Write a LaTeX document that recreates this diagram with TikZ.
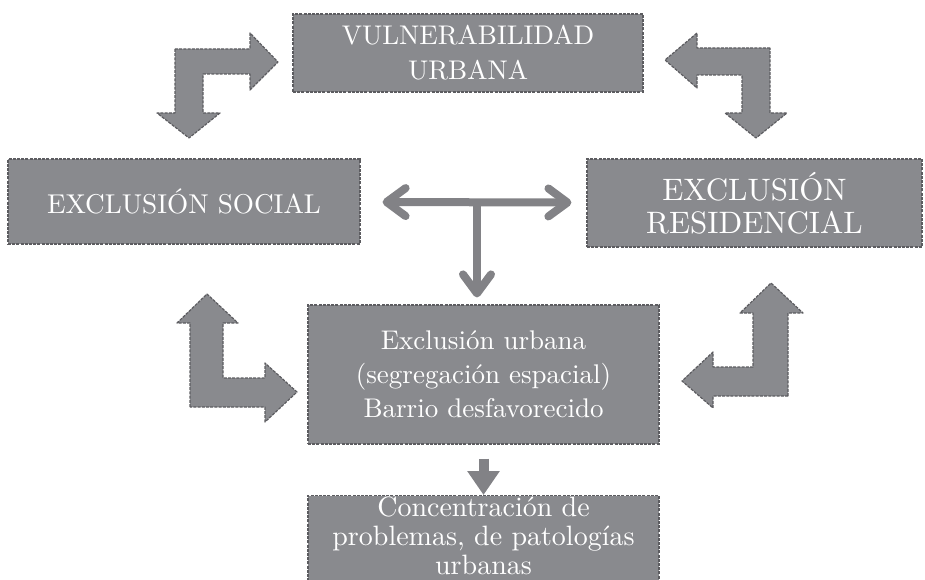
\documentclass[tikz,border=0pt]{standalone}
\usepackage{fontspec}
\setmainfont{lmroman10-regular.otf}
\usepackage{tikz}
\usetikzlibrary{arrows.meta}
\definecolor{boxgray}{RGB}{137,138,142}
\definecolor{edgegray}{RGB}{92,92,96}
\definecolor{linegray}{RGB}{130,130,134}

\begin{document}
\begin{tikzpicture}[x=1pt,y=-1pt,
    box/.style={rectangle,draw=edgegray,fill=boxgray,line width=1.2pt,
      dash pattern=on 3pt off 1.2pt,text=white,align=center,inner sep=0pt},
    lblock/.style={draw=edgegray,fill=boxgray,line width=1.2pt,
      dash pattern=on 3pt off 1.2pt,line join=round},
    tarrow/.style={draw=linegray,line width=8pt,
      {Straight Barb[length=19pt,width=28pt,round]}-{Straight Barb[length=19pt,width=28pt,round]}},
    downarrow/.style={draw=linegray,line width=10pt,
      -{Triangle[length=24pt,width=31pt]}}]
  \useasboundingbox (0,0) rectangle (925,580);
  \clip (0,0) rectangle (925,580);

  \node (vul) [box,minimum width=350pt,minimum height=78pt,
    font=\fontsize{27}{35}\selectfont] at (468,53) {VULNERABILIDAD\\URBANA};

  \node (social) [box,minimum width=352pt,minimum height=85pt,
    font=\fontsize{27.2}{30}\selectfont] at (184,201.5) {EXCLUSIÓN SOCIAL};
  \node (resid) [box,minimum width=335pt,minimum height=88pt,
    font=\fontsize{31}{33}\selectfont] at (754.5,203) {EXCLUSIÓN\\RESIDENCIAL};

  \node (urb) [box,minimum width=351pt,minimum height=139pt,
    font=\fontsize{27}{34}\selectfont] at (483.5,374.5)
    {Exclusión urbana\\(segregación espacial)\\Barrio desfavorecido};

  \node (conc) [box,minimum width=351pt,minimum height=110pt,anchor=north] at (483.5,495) {};
  \node (conctext) [text=white,align=center,inner sep=0pt,
    font=\fontsize{28}{29}\selectfont] at (483.5,536)
    {Concentración de\\problemas, de patologías\\urbanas};

  \coordinate (tj) at (477,202);

  \draw[tarrow,shorten <=22pt,shorten >=15pt] (social) -- (resid);
  \draw[tarrow,-{Straight Barb[length=19pt,width=28pt,round]},shorten >=7pt] (tj) -- (tj |- urb.north);
  \draw[downarrow,shorten <=14pt] (urb) -- (conc);

  \draw[lblock] (175,49) -- (250,49) -- (250,33) -- (278,62) -- (250,90) -- (250,74)
    -- (203,74) -- (203,113) -- (220,113) -- (189,138) -- (157,113) -- (175,113) -- cycle;
  \draw[lblock] (770,48) -- (697,48) -- (697,33) -- (665,60) -- (697,88) -- (697,75)
    -- (742,75) -- (742,113) -- (725,113) -- (756,138) -- (787,113) -- (770,113) -- cycle;
  \draw[lblock] (190,407) -- (190,323) -- (177,323) -- (207,294) -- (238,323) -- (223,323)
    -- (223,378) -- (265,378) -- (265,363) -- (297,392) -- (265,422) -- (265,407) -- cycle;
  \draw[lblock] (788,396) -- (788,313) -- (803,313) -- (771,283) -- (740,313) -- (753,313)
    -- (753,367) -- (713,367) -- (713,352) -- (682,381) -- (713,408) -- (713,396) -- cycle;
\end{tikzpicture}
\end{document}
